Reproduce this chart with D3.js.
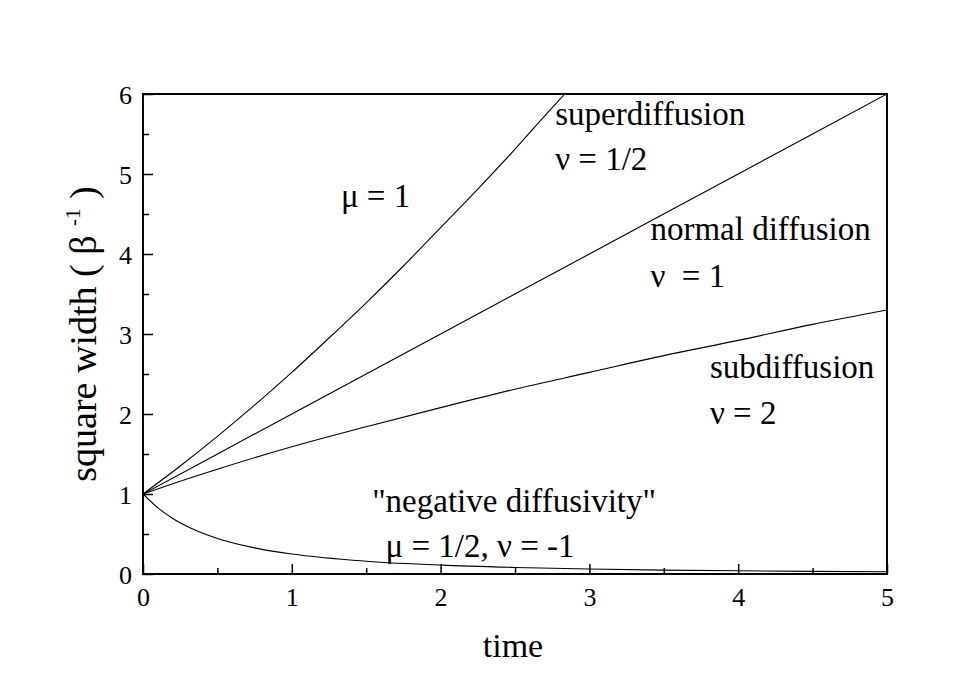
<!DOCTYPE html>
<html>
<head>
<meta charset="utf-8">
<script src="https://cdn.jsdelivr.net/npm/d3@7"></script>
<style>
  html, body { margin: 0; padding: 0; background: #fff; }
  svg text { font-family: "Liberation Serif", "Times New Roman", serif; fill: #000; }
</style>
</head>
<body>
<svg id="chart" width="977" height="678"></svg>
<script>
// ---- data ----
const xTicks = [0, 1, 2, 3, 4, 5];
const xMinorTicks = [0.5, 1.5, 2.5, 3.5, 4.5];
const yTicks = [0, 1, 2, 3, 4, 5, 6];
const yMinorTicks = [0.5, 1.5, 2.5, 3.5, 4.5, 5.5];

const superT = [0, 0.25, 0.5, 0.75, 1, 1.25, 1.5, 1.75, 2, 2.25, 2.5, 2.75, 2.835];
const superW = [1, 1.35, 1.72, 2.11, 2.52, 2.95, 3.39, 3.85, 4.33, 4.81, 5.31, 5.83, 6.0];

const normalT = [0, 1, 2, 3, 4, 5];
const normalW = [1, 2, 3, 4, 5, 6];

const subT = [0, 0.25, 0.5, 1, 1.5, 2, 2.5, 3, 3.5, 4, 4.5, 5];
const subW = [1, 1.16, 1.31, 1.59, 1.84, 2.08, 2.31, 2.52, 2.73, 2.92, 3.12, 3.30];

const negT = [0, 0.1, 0.2, 0.35, 0.5, 0.75, 1, 1.5, 2, 2.5, 3, 3.5, 4, 4.5, 5];
const negW = [1, 0.826, 0.694, 0.549, 0.444, 0.327, 0.25, 0.16, 0.111, 0.082, 0.0625, 0.049, 0.04, 0.033, 0.028];

const annotations = [
  { text: "\u03bc = 1", x: 1.33, y: 4.59 },
  { text: "superdiffusion", x: 2.77, y: 5.61 },
  { text: "\u03bd = 1/2", x: 2.77, y: 5.05 },
  { text: "normal diffusion", x: 3.41, y: 4.17 },
  { text: "\u03bd  = 1", x: 3.41, y: 3.59 },
  { text: "subdiffusion", x: 3.81, y: 2.45 },
  { text: "\u03bd = 2", x: 3.81, y: 1.88 },
  { text: "\"negative diffusivity\"", x: 1.54, y: 0.78 },
  { text: "\u03bc = 1/2, \u03bd = -1", x: 1.63, y: 0.21 }
];

// ---- layout ----
const svg = d3.select("#chart");
const mLeft = 143, mRight = 887, mTop = 94, mBottom = 574;
const serif = "'Liberation Serif', 'Times New Roman', serif";

const x = d3.scaleLinear().domain([0, 5]).range([mLeft, mRight]);
const y = d3.scaleLinear().domain([0, 6]).range([mBottom, mTop]);

svg.append("defs").append("clipPath").attr("id", "plotclip")
  .append("rect").attr("x", mLeft).attr("y", mTop).attr("width", mRight - mLeft).attr("height", mBottom - mTop);

const line = d3.line().x(d => x(d[0])).y(d => y(d[1])).curve(d3.curveMonotoneX);
const series = [[superT, superW], [normalT, normalW], [subT, subW], [negT, negW]];
svg.append("g").attr("clip-path", "url(#plotclip)")
  .selectAll("path").data(series).join("path")
  .attr("d", s => line(s[0].map((t, i) => [t, s[1][i]])))
  .attr("fill", "none").attr("stroke", "#000").attr("stroke-width", 1.1);

function styleAxis(g) {
  g.attr("font-family", serif);
  g.select(".domain").remove();
  g.selectAll(".tick line").attr("stroke", "#000").attr("stroke-width", 1.5);
}
svg.append("g").attr("transform", `translate(0,${mBottom})`)
  .call(d3.axisBottom(x).tickValues(xMinorTicks).tickSize(-6).tickFormat(""))
  .call(styleAxis);
svg.append("g").attr("transform", `translate(0,${mBottom})`)
  .call(d3.axisBottom(x).tickValues(xTicks).tickSize(-10).tickFormat(d3.format("d")))
  .call(styleAxis)
  .call(g => g.selectAll(".tick text").attr("font-size", 26).attr("font-family", serif)
    .style("font-family", serif).attr("dy", "0.71em").attr("y", 14));
svg.append("g").attr("transform", `translate(${mLeft},0)`)
  .call(d3.axisLeft(y).tickValues(yMinorTicks).tickSize(-6).tickFormat(""))
  .call(styleAxis);
svg.append("g").attr("transform", `translate(${mLeft},0)`)
  .call(d3.axisLeft(y).tickValues(yTicks).tickSize(-10).tickFormat(d3.format("d")))
  .call(styleAxis)
  .call(g => g.selectAll(".tick text").attr("font-size", 26).attr("font-family", serif)
    .style("font-family", serif).attr("x", -11).attr("dy", "0.35em"));

svg.append("rect").attr("x", mLeft).attr("y", mTop).attr("width", mRight - mLeft).attr("height", mBottom - mTop)
  .attr("fill", "none").attr("stroke", "#000").attr("stroke-width", 2);

svg.append("g").selectAll("text").data(annotations).join("text")
  .attr("x", d => x(d.x)).attr("y", d => y(d.y))
  .attr("font-size", 33)
  .style("white-space", "pre")
  .text(d => d.text);

svg.append("text").attr("x", 513).attr("y", 657)
  .attr("text-anchor", "middle").attr("font-size", 34).text("time");

const yt = svg.append("text").attr("transform", "translate(96,334) rotate(-90)")
  .attr("text-anchor", "middle").attr("font-size", 38);
yt.append("tspan").text("square width ( \u03b2 ");
yt.append("tspan").attr("font-size", 21).attr("dy", -16).text("-1");
yt.append("tspan").attr("dy", 16).text(" )");
</script>
</body>
</html>
